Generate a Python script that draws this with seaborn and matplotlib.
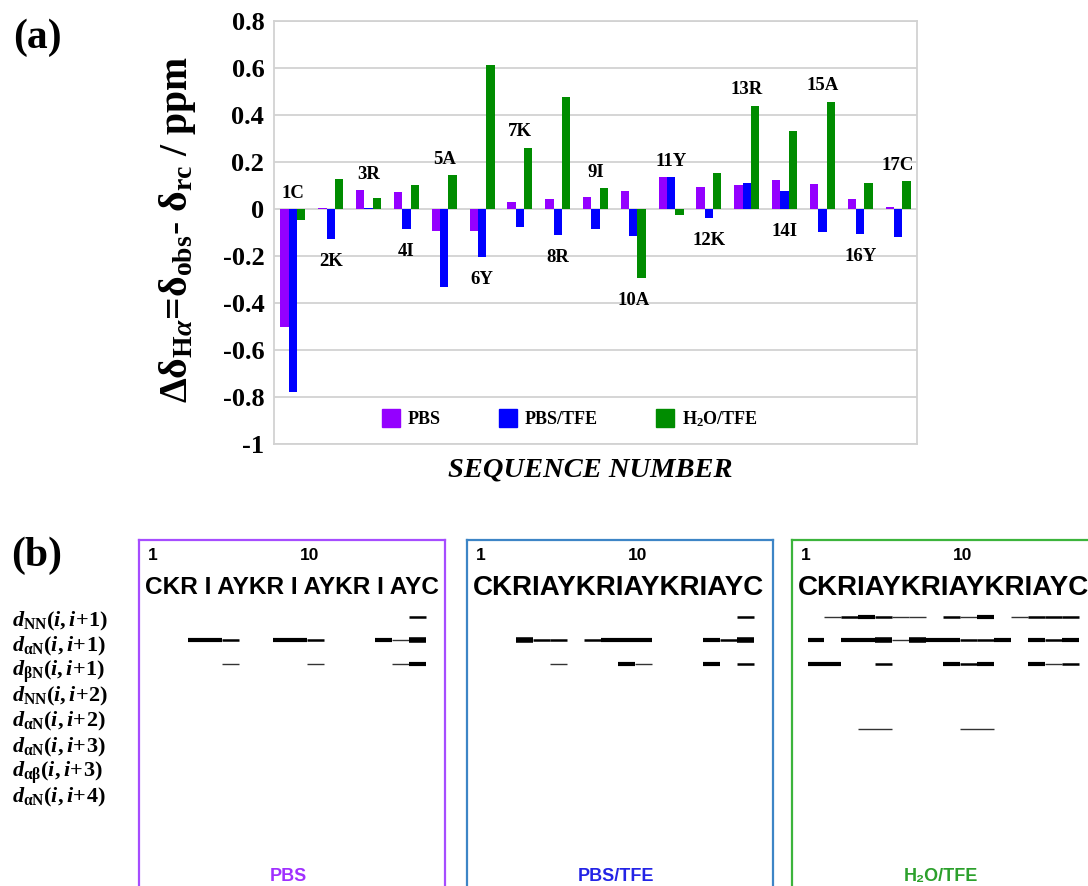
import numpy as np
import pandas as pd
import matplotlib
matplotlib.use("Agg")
import matplotlib.pyplot as plt
import seaborn as sns
from matplotlib.lines import Line2D

# ---------------- data: panel (a) ----------------
residues = ["1C", "2K", "3R", "4I", "5A", "6Y", "7K", "8R", "9I", "10A",
            "11Y", "12K", "13R", "14I", "15A", "16Y", "17C"]
pbs = [-0.500, 0.003, 0.080, 0.072, -0.094, -0.094, 0.031, 0.041, 0.051, 0.077,
       0.135, 0.092, 0.102, 0.122, 0.108, 0.043, 0.008]
pbs_tfe = [-0.780, -0.128, 0.003, -0.087, -0.332, -0.204, -0.078, -0.111, -0.087, -0.113,
           0.135, -0.038, 0.111, 0.075, -0.099, -0.106, -0.118]
h2o_tfe = [-0.047, 0.128, 0.048, 0.102, 0.143, 0.613, 0.260, 0.478, 0.089, -0.294,
           -0.024, 0.152, 0.440, 0.333, 0.457, 0.112, 0.118]
conditions = ["PBS", "PBS/TFE", "H$_2$O/TFE"]
bar_colors = ["#9400ff", "#0000ff", "#008c00"]
yticks = [-1, -0.8, -0.6, -0.4, -0.2, 0, 0.2, 0.4, 0.6, 0.8]

# ---------------- data: panel (b) NOE connectivities ----------------
sequence = "CKRIAYKRIAYKRIAYC"
row_labels = [r"$d_{\mathrm{NN}}(i,i\!+\!1)$", r"$d_{\mathrm{\alpha N}}(i,i\!+\!1)$",
              r"$d_{\mathrm{\beta N}}(i,i\!+\!1)$", r"$d_{\mathrm{NN}}(i,i\!+\!2)$",
              r"$d_{\mathrm{\alpha N}}(i,i\!+\!2)$", r"$d_{\mathrm{\alpha N}}(i,i\!+\!3)$",
              r"$d_{\mathrm{\alpha\beta}}(i,i\!+\!3)$", r"$d_{\mathrm{\alpha N}}(i,i\!+\!4)$"]
# (from residue, to residue, strength 1=weak .. 4=very strong)
pbs_dNN1 = [(16, 17, 2)]
pbs_daN1 = [(3, 4, 3), (4, 5, 3), (5, 6, 2), (8, 9, 3), (9, 10, 3), (10, 11, 2),
            (14, 15, 3), (15, 16, 1), (16, 17, 4)]
pbs_dbN1 = [(5, 6, 1), (10, 11, 1), (15, 16, 1), (16, 17, 3)]
pbs_daN2 = []
tfe_dNN1 = [(16, 17, 2)]
tfe_daN1 = [(3, 4, 4), (4, 5, 2), (5, 6, 2), (7, 8, 2), (8, 9, 3), (9, 10, 3), (10, 11, 3),
            (14, 15, 3), (15, 16, 2), (16, 17, 4)]
tfe_dbN1 = [(5, 6, 1), (9, 10, 3), (10, 11, 1), (14, 15, 3), (16, 17, 2)]
tfe_daN2 = []
h2o_dNN1 = [(2, 3, 1), (3, 4, 2), (4, 5, 3), (5, 6, 2), (6, 7, 1), (7, 8, 1),
            (9, 10, 2), (10, 11, 1), (11, 12, 3), (13, 14, 1), (14, 15, 2), (15, 16, 2), (16, 17, 2)]
h2o_daN1 = [(1, 2, 3), (3, 4, 3), (4, 5, 3), (5, 6, 4), (6, 7, 1), (7, 8, 4), (8, 9, 3),
            (9, 10, 3), (10, 11, 2), (11, 12, 2), (12, 13, 3), (14, 15, 3), (15, 16, 2), (16, 17, 3)]
h2o_dbN1 = [(1, 2, 3), (2, 3, 3), (5, 6, 2), (9, 10, 3), (10, 11, 2), (11, 12, 3),
            (14, 15, 3), (15, 16, 1), (16, 17, 2)]
h2o_daN2 = [(4, 6, 1), (10, 12, 1)]
panel_names = ["PBS", "PBS/TFE", "H\u2082O/TFE"]

# ---------------- styling ----------------
plt.rcParams["mathtext.fontset"] = "custom"
plt.rcParams["mathtext.rm"] = "Liberation Serif:bold"
plt.rcParams["mathtext.it"] = "Liberation Serif:italic:bold"
plt.rcParams["mathtext.bf"] = "Liberation Serif:bold"
plt.rcParams["font.family"] = ["Liberation Serif", "DejaVu Sans"]
plt.rcParams["font.weight"] = "bold"

W, H = 1088, 886
fig = plt.figure(figsize=(W / 100, H / 100), dpi=100)


def px_rect(l, t, r, b):
    return [l / W, 1 - b / H, (r - l) / W, (b - t) / H]


# ---------------- panel (a) ----------------
ax = fig.add_axes(px_rect(274, 21, 917, 444))
df = pd.concat([
    pd.DataFrame({"residue": residues, "value": vals, "condition": cond})
    for vals, cond in zip([pbs, pbs_tfe, h2o_tfe], conditions)
])
sns.barplot(data=df, x="residue", y="value", hue="condition", order=residues,
            hue_order=conditions, palette=bar_colors, saturation=1, width=0.66,
            linewidth=0, errorbar=None, legend=False, ax=ax)
ax.set_ylim(-1, 0.8)
ax.set_yticks(yticks)
ax.set_yticklabels(["{:g}".format(v) for v in yticks], fontsize=19,
                   fontweight="bold", family="Liberation Serif")
ax.tick_params(axis="y", length=0, pad=7)
ax.set_xticks([])
ax.set_xlabel("")
ax.set_ylabel("")
ax.yaxis.grid(True, color="#d2d2d2", lw=1.3)
ax.set_axisbelow(True)
for s in ax.spines.values():
    s.set_color("#d2d2d2")
    s.set_linewidth(1.3)

for i, r in enumerate(residues):
    vals = [pbs[i], pbs_tfe[i], h2o_tfe[i]]
    if i % 2 == 0:
        y = max(max(vals), 0) + 0.068
    else:
        y = min(min(vals), 0) - 0.095
    ax.text(i, y, r, ha="center", va="center", fontsize=13.5, fontweight="bold",
            family="Liberation Serif")

handles = [Line2D([], [], marker="s", ls="none", markersize=12.5,
                  markerfacecolor=c, markeredgecolor=c) for c in bar_colors]
ax.legend(handles, conditions, loc="center", bbox_to_anchor=(0.46, 0.059), ncol=3,
          frameon=False, prop=dict(family="Liberation Serif", weight="bold", size=13),
          handletextpad=0.45, columnspacing=3.2, handlelength=1.0)

fig.text(177 / W, 1 - 230 / H,
         r"$\Delta\mathrm{\delta}_{\mathrm{H}\alpha}$=$\mathrm{\delta}_{\mathrm{obs}}$- "
         r"$\mathrm{\delta}_{\mathrm{rc}}$ / ppm",
         rotation=90, ha="center", va="center", fontsize=28.5, fontweight="bold",
         family="Liberation Serif")
fig.text(590 / W, 1 - 470 / H, "SEQUENCE NUMBER", ha="center", va="center",
         fontsize=20.5, fontweight="bold", style="italic", family="Liberation Serif")
fig.text(37 / W, 1 - 38 / H, "(a)", ha="center", va="center", fontsize=30,
         fontweight="bold", family="Liberation Serif")
fig.text(37 / W, 1 - 556 / H, "(b)", ha="center", va="center", fontsize=30,
         fontweight="bold", family="Liberation Serif")

# ---------------- panel (b) ----------------
label_y0, label_dy = 626, 25.2
for k, lab in enumerate(row_labels):
    fig.text(12 / W, 1 - (label_y0 + k * label_dy) / H, lab, ha="left",
             va="baseline", fontsize=16)

row_y = {"dNN1": 617, "daN1": 640, "dbN1": 664, "daN2": 729}
lw_map = {1: 1.0, 2: 1.8, 3: 3.0, 4: 4.0}
col_map = {1: "#333333", 2: "black", 3: "black", 4: "black"}
box_lefts = [139, 467, 792]
box_w = 306
box_colors = ["#a64dff", "#3d85c6", "#3cb43c"]
name_colors = ["#a030ff", "#2424e6", "#2ca02c"]
panel_data = [
    {"dNN1": pbs_dNN1, "daN1": pbs_daN1, "dbN1": pbs_dbN1, "daN2": pbs_daN2},
    {"dNN1": tfe_dNN1, "daN1": tfe_daN1, "dbN1": tfe_dbN1, "daN2": tfe_daN2},
    {"dNN1": h2o_dNN1, "daN1": h2o_daN1, "dbN1": h2o_dbN1, "daN2": h2o_daN2},
]
res_x0, res_dx = 15.5, 16.94

for p, left in enumerate(box_lefts):
    bax = fig.add_axes(px_rect(left, 540, left + box_w, 897))
    bax.set_xlim(0, box_w)
    bax.set_ylim(897, 540)
    bax.set_xticks([])
    bax.set_yticks([])
    for s in bax.spines.values():
        s.set_color(box_colors[p])
        s.set_linewidth(1.6)
    bax.text(res_x0 - 1.5, 556, "1", ha="center", va="center", fontsize=12.5,
             fontweight="bold", family="Liberation Sans")
    bax.text(res_x0 + 9 * res_dx + 3, 556, "10", ha="center", va="center",
             fontsize=12.5, fontweight="bold", family="Liberation Sans")
    if p == 0:
        seq_txt, fs = "CKR I AYKR I AYKR I AYC", 17.6
    else:
        seq_txt, fs = sequence, 20
    bax.text(6, 588, seq_txt, ha="left", va="center", fontsize=fs,
             fontweight="bold", family="Liberation Sans", clip_on=False)
    for key, segs in panel_data[p].items():
        for (a, b, lev) in segs:
            bax.hlines(row_y[key], res_x0 + (a - 1) * res_dx, res_x0 + (b - 1) * res_dx,
                       lw=lw_map[lev], color=col_map[lev], capstyle="butt")
    bax.text(box_w / 2 - 4, 877, panel_names[p], ha="center", va="center",
             fontsize=13, fontweight="bold", color=name_colors[p],
             family=["Liberation Sans", "DejaVu Sans"])

fig.savefig("out.png", dpi=100)
